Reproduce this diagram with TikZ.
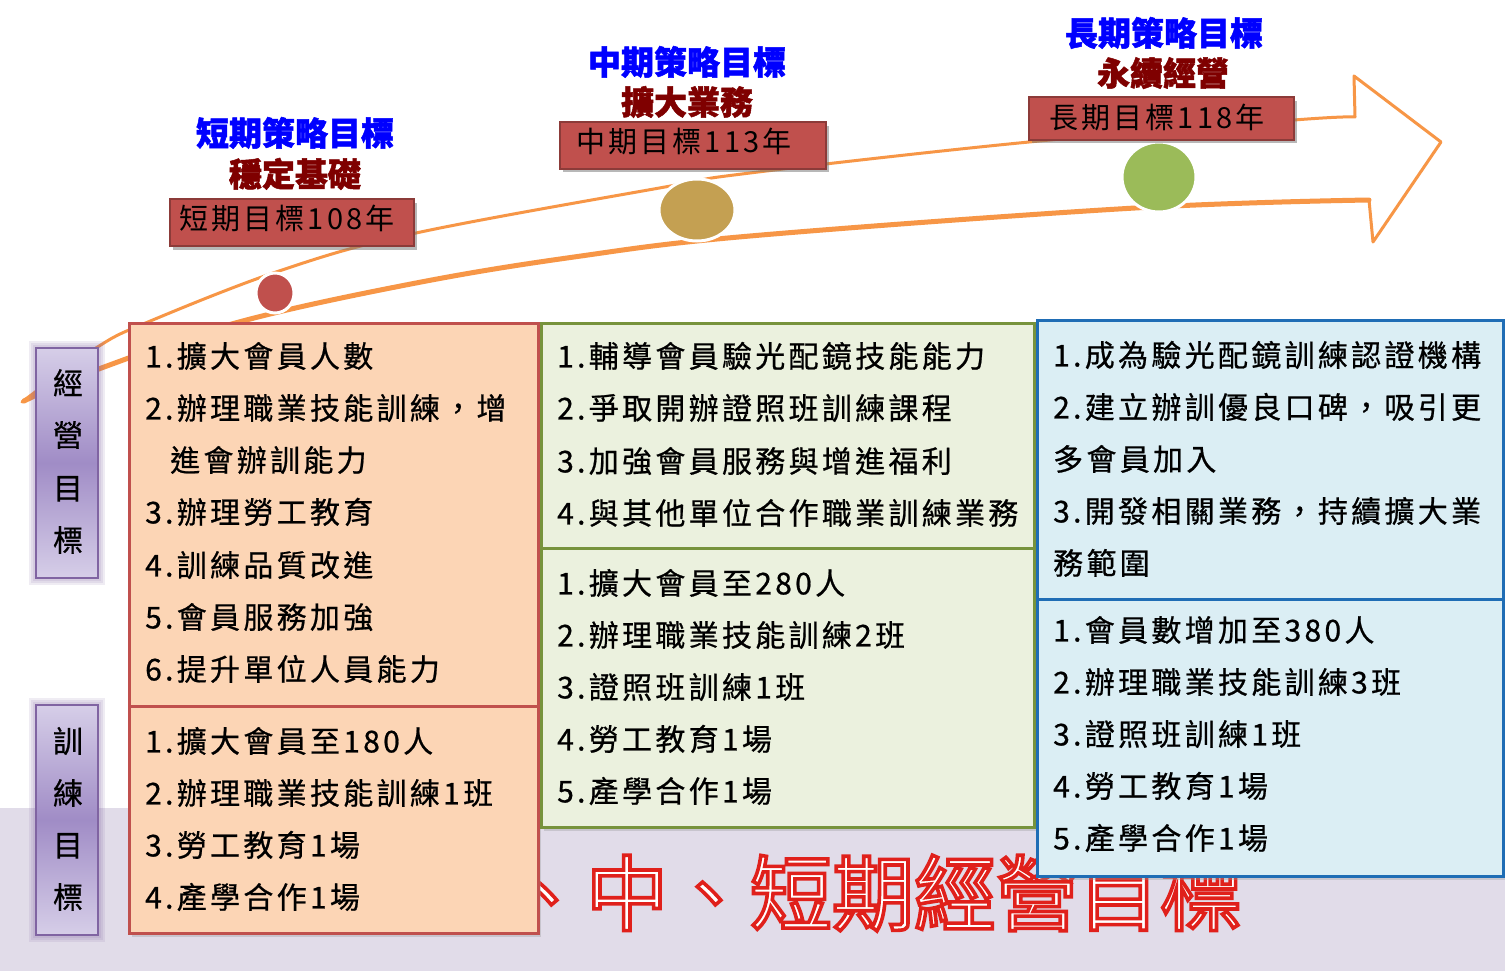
\documentclass[tikz,border=0pt]{standalone}
\usepackage{fontspec}
\newfontfamily\cjk[LetterSpace=11, FakeBold=0.7]{Noto Sans CJK TC}
\newfontfamily\cjkplain{Noto Sans CJK TC}
\newfontfamily\cjkyear[LetterSpace=11]{Noto Sans CJK TC}
\newfontfamily\cjkheavy[BoldFeatures={FakeBold=1.5}]{Noto Sans CJK TC}
\definecolor{bandc}{HTML}{E1DCE9}
\definecolor{arrowc}{HTML}{F79646}
\definecolor{redbox}{HTML}{C0504D}
\definecolor{redborder}{HTML}{8C3B39}
\definecolor{peach}{HTML}{FCD5B5}
\definecolor{peachborder}{HTML}{C0504D}
\definecolor{greenfill}{HTML}{EBF1DE}
\definecolor{greenborder}{HTML}{77933C}
\definecolor{bluefill}{HTML}{DBEEF4}
\definecolor{blueborder}{HTML}{1F6DB5}
\definecolor{goldc}{HTML}{C4A052}
\definecolor{leafc}{HTML}{9BBB59}
\definecolor{titleblue}{HTML}{0000FF}
\definecolor{titlered}{HTML}{7F0000}
\definecolor{purpleborder}{HTML}{8064A2}
\definecolor{purplelight}{HTML}{D6CEE8}
\definecolor{purplemid}{HTML}{A08CC6}
\newcommand\outlinedtext[1]{{\color{white}\special{pdf:literal direct 2 Tr 3.6 w 0.88 0.125 0.106 RG}#1\special{pdf:literal direct 0 Tr}}}
\begin{document}
\begin{tikzpicture}[x=1pt,y=-1pt,
  item/.style={anchor=west, inner sep=0pt, font=\cjk\fontsize{30}{34}\selectfont, text=black, text height=24.9pt, text depth=2.1pt},
  ttl/.style={inner sep=0pt, font=\cjkheavy\bfseries\fontsize{33}{36}\selectfont, text height=27.4pt, text depth=2.3pt},
  yearlab/.style={inner sep=0pt, font=\cjkyear\fontsize{29}{34}\selectfont, text=black, text height=24.1pt, text depth=2pt},
  vchar/.style={inner sep=0pt, font=\cjk\fontsize{30}{34}\selectfont, text=black, text height=24.9pt, text depth=2.1pt},
  bigtxt/.style={inner sep=0pt, font=\cjkplain\fontsize{82}{90}\selectfont, text height=68pt, text depth=5.7pt},
  arrowline/.style={draw=arrowc, line width=3pt, line join=round, line cap=round},
  dot/.style={draw=white, line width=3pt},
  yearbox/.style={fill=redbox, draw=redborder, line width=2.5pt},
  purplebox/.style={draw=purpleborder, line width=2.5pt, top color=purplelight, bottom color=purplelight, middle color=purplemid},
]
\useasboundingbox (0,0) rectangle (1505,971);
\fill[white] (0,0) rectangle (1505,971);
% lavender band
\fill[bandc] (0,808) rectangle (1505,971);

% big outlined background title
\node[bigtxt] (bigtitle) at (832,893) {\outlinedtext{長、中、短期經營目標}};

% big arrow
\draw[arrowline] plot[smooth, tension=0.6] coordinates {(22,402) (96,348) (148,322) (282,270) (416,233) (665,187) (750,173) (1029,142) (1294,120) (1355,117)}
  -- (1354,76) -- (1441,142) -- (1373,242) -- (1369,200)
  -- plot[smooth, tension=0.6] coordinates {(1369,200) (1135,208) (750,236) (574,257) (416,283) (239,322) (96,370) (22,402)} -- cycle;
\draw[draw=arrowc, line width=5pt, line cap=round] plot[smooth, tension=0.6] coordinates {(1369,200) (1135,208) (750,236) (574,257) (416,283) (239,322) (96,370) (24,401)};

% circles
\path[dot, fill=redbox] (275,293) ellipse [x radius=19, y radius=20];
\path[dot, fill=goldc] (697,210) ellipse [x radius=38, y radius=31];
\path[dot, fill=leafc] (1159,177) ellipse [x radius=37, y radius=35];

% year boxes
\fill[black!55, opacity=0.5] (173,203) rectangle (417,250);
\path[yearbox] (170,199) rectangle (414,246);
\node[yearlab] (y1) at (287,218) {短期目標108年};
\fill[black!55, opacity=0.5] (563,126) rectangle (829,172);
\path[yearbox] (560,122) rectangle (826,169);
\node[yearlab] (y2) at (684,141) {中期目標113年};
\fill[black!55, opacity=0.5] (1032,101) rectangle (1297,143);
\path[yearbox] (1029,97) rectangle (1294,140);
\node[yearlab] (y3) at (1157,117) {長期目標118年};

% titles
\node[ttl, text=titleblue] (t1a) at (295,133) {短期策略目標};
\node[ttl, text=titlered] (t1b) at (295,174) {穩定基礎};
\node[ttl, text=titleblue] (t2a) at (687,62) {中期策略目標};
\node[ttl, text=titlered] (t2b) at (687,102) {擴大業務};
\node[ttl, text=titleblue] (t3a) at (1164,33) {長期策略目標};
\node[ttl, text=titlered] (t3b) at (1163,73) {永續經營};

% content boxes
\fill[black!40, opacity=0.35] (132,327) rectangle (541,937);
\path[fill=peach, draw=peachborder, line width=3pt] (129,323) rectangle (538,706);
\path[fill=peach, draw=peachborder, line width=3pt] (129,706) rectangle (538,933);
\fill[black!40, opacity=0.35] (544,327) rectangle (1037,831);
\path[fill=greenfill, draw=greenborder, line width=3pt] (541,323) rectangle (1034,548);
\path[fill=greenfill, draw=greenborder, line width=3pt] (541,548) rectangle (1034,827);
\fill[black!40, opacity=0.35] (1040,324) rectangle (1506,880);
\path[fill=bluefill, draw=blueborder, line width=3pt] (1037,320) rectangle (1503,599);
\path[fill=bluefill, draw=blueborder, line width=3pt] (1037,599) rectangle (1503,876);

% orange texts
\node[item] (o1) at (145,356) {1.擴大會員人數};
\node[item] (o2) at (145,408) {2.辦理職業技能訓練，增};
\node[item] (o2b) at (170,460) {進會辦訓能力};
\node[item] (o3) at (145,512) {3.辦理勞工教育};
\node[item] (o4) at (145,565) {4.訓練品質改進};
\node[item] (o5) at (145,617) {5.會員服務加強};
\node[item] (o6) at (145,669) {6.提升單位人員能力};
\node[item] (ob1) at (145,741) {1.擴大會員至180人};
\node[item] (ob2) at (145,793) {2.辦理職業技能訓練1班};
\node[item] (ob3) at (145,845) {3.勞工教育1場};
\node[item] (ob4) at (145,897) {4.產學合作1場};

% green texts
\node[item] (g1) at (557,356) {1.輔導會員驗光配鏡技能能力};
\node[item] (g2) at (557,408) {2.爭取開辦證照班訓練課程};
\node[item] (g3) at (557,461) {3.加強會員服務與增進福利};
\node[item] (g4) at (557,513) {4.與其他單位合作職業訓練業務};
\node[item] (gb1) at (557,583) {1.擴大會員至280人};
\node[item] (gb2) at (557,635) {2.辦理職業技能訓練2班};
\node[item] (gb3) at (557,687) {3.證照班訓練1班};
\node[item] (gb4) at (557,739) {4.勞工教育1場};
\node[item] (gb5) at (557,791) {5.產學合作1場};

% blue texts
\node[item] (b1) at (1053,355) {1.成為驗光配鏡訓練認證機構};
\node[item] (b2) at (1053,407) {2.建立辦訓優良口碑，吸引更};
\node[item] (b2b) at (1053,459) {多會員加入};
\node[item] (b3) at (1053,511) {3.開發相關業務，持續擴大業};
\node[item] (b3b) at (1053,563) {務範圍};
\node[item] (bb1) at (1053,630) {1.會員數增加至380人};
\node[item] (bb2) at (1053,682) {2.辦理職業技能訓練3班};
\node[item] (bb3) at (1053,734) {3.證照班訓練1班};
\node[item] (bb4) at (1053,786) {4.勞工教育1場};
\node[item] (bb5) at (1053,838) {5.產學合作1場};

% purple side labels with glow
\foreach \g in {7,5,3}{
  \fill[purpleborder, opacity=0.12] (36-\g,348-\g) rectangle (98+\g,578+\g);
  \fill[purpleborder, opacity=0.12] (36-\g,705-\g) rectangle (98+\g,935+\g);
}
\path[purplebox] (36,348) rectangle (98,578);
\path[purplebox] (36,705) rectangle (98,935);
\node[vchar] (l1a) at (68,383) {經};
\node[vchar] (l1b) at (68,435) {營};
\node[vchar] (l1c) at (68,488) {目};
\node[vchar] (l1d) at (68,540) {標};
\node[vchar] (l2a) at (68,741) {訓};
\node[vchar] (l2b) at (68,793) {練};
\node[vchar] (l2c) at (68,845) {目};
\node[vchar] (l2d) at (68,897) {標};
\end{tikzpicture}
\end{document}
